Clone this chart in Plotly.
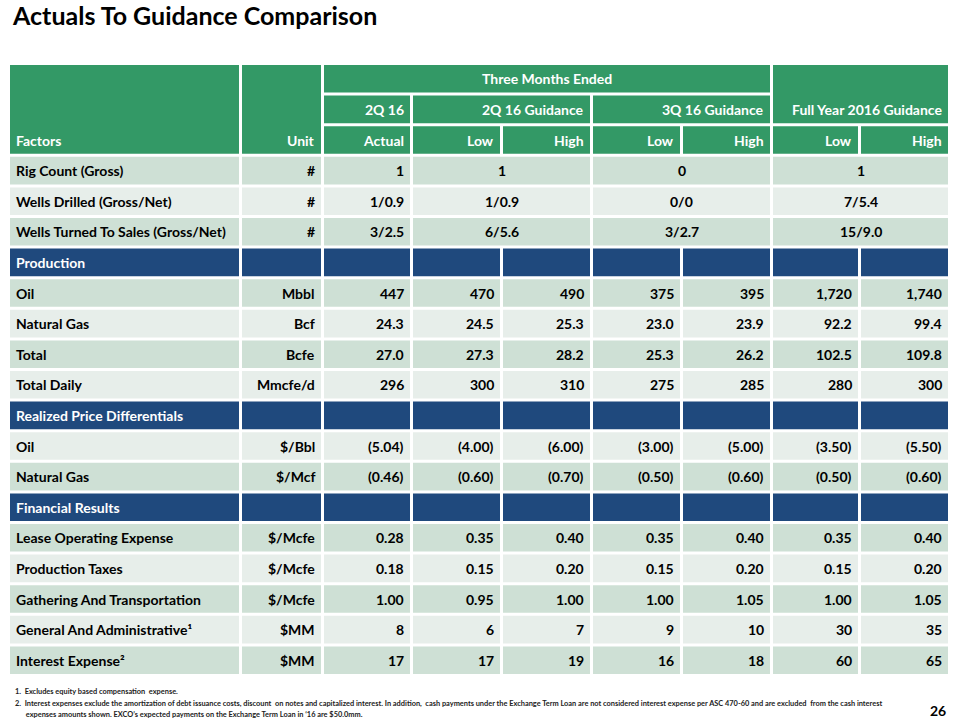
import plotly.graph_objects as go

# ---------------- data ----------------
title = "Actuals To Guidance Comparison"
factors = ["Rig Count (Gross)", "Wells Drilled (Gross/Net)", "Wells Turned To Sales (Gross/Net)",
           "Production", "Oil", "Natural Gas", "Total", "Total Daily",
           "Realized Price Differentials", "Oil", "Natural Gas",
           "Financial Results", "Lease Operating Expense", "Production Taxes",
           "Gathering And Transportation", "General And Administrative¹", "Interest Expense²"]
units = ["#", "#", "#", "", "Mbbl", "Bcf", "Bcfe", "Mmcfe/d", "", "$/Bbl", "$/Mcf", "",
         "$/Mcfe", "$/Mcfe", "$/Mcfe", "$MM", "$MM"]
section_rows = [False, False, False, True, False, False, False, False, True, False, False,
                True, False, False, False, False, False]
actual = ["1", "1/0.9", "3/2.5", None, "447", "24.3", "27.0", "296", None, "(5.04)", "(0.46)",
          None, "0.28", "0.18", "1.00", "8", "17"]
q2_low = [None, None, None, None, "470", "24.5", "27.3", "300", None, "(4.00)", "(0.60)",
          None, "0.35", "0.15", "0.95", "6", "17"]
q2_high = [None, None, None, None, "490", "25.3", "28.2", "310", None, "(6.00)", "(0.70)",
           None, "0.40", "0.20", "1.00", "7", "19"]
q3_low = [None, None, None, None, "375", "23.0", "25.3", "275", None, "(3.00)", "(0.50)",
          None, "0.35", "0.15", "1.00", "9", "16"]
q3_high = [None, None, None, None, "395", "23.9", "26.2", "285", None, "(5.00)", "(0.60)",
           None, "0.40", "0.20", "1.05", "10", "18"]
fy_low = [None, None, None, None, "1,720", "92.2", "102.5", "280", None, "(3.50)", "(0.50)",
          None, "0.35", "0.15", "1.00", "30", "60"]
fy_high = [None, None, None, None, "1,740", "99.4", "109.8", "300", None, "(5.50)", "(0.60)",
           None, "0.40", "0.20", "1.05", "35", "65"]
# merged guidance values for first rows
q2_merged = ["1", "1/0.9", "6/5.6"]
q3_merged = ["0", "0/0", "3/2.7"]
fy_merged = ["1", "7/5.4", "15/9.0"]

header_top = "Three Months Ended"
header_mid = ["2Q 16", "2Q 16 Guidance", "3Q 16 Guidance", "Full Year 2016 Guidance"]
header_low = ["Factors", "Unit", "Actual", "Low", "High", "Low", "High", "Low", "High"]
footnotes = [
    "1.  Excludes equity based compensation  expense.",
    "2.  Interest expenses exclude the amortization of debt issuance costs, discount  on notes and capitalized interest. In addition,  cash payments under the Exchange Term Loan are not considered interest expense per ASC 470-60 and are excluded  from the cash interest",
    "      expenses amounts shown. EXCO’s expected payments on the Exchange Term Loan in ‘16 are $50.0mm.",
]
page_no = "26"

# ---------------- layout / style ----------------
GREEN = "#339966"
BLUE = "#1F497D"
DARK = "#CEE0D5"
LIGHT = "#E7EEEA"
FONT = "Lato"
FS = 14

cols = [(10, 239), (242, 321), (324, 410), (413, 500), (503, 590),
        (593, 680), (683, 770), (773, 858), (861, 948)]
TOP = 65.0
PITCH = 30.6
GAP = 3.0
PAD = 4


def row_y(i):
    t = TOP + i * PITCH
    return t, t + PITCH - GAP


shapes = []
annots = []


def rect(x0, y0, x1, y1, color):
    shapes.append(dict(type="rect", xref="x", yref="y", x0=x0, x1=x1, y0=y0, y1=y1,
                       fillcolor=color, line=dict(width=0), layer="below"))


def text(x, y, s, anchor, color="black", size=FS, bold=True):
    if s is None or s == "":
        return
    annots.append(dict(x=x, y=y, xref="x", yref="y", text=("<b>%s</b>" % s) if bold else s,
                       showarrow=False, xanchor=anchor, yanchor="middle",
                       font=dict(family=FONT, size=size, color=color)))


def cell_text(c0, c1, yc, s, align, color="black"):
    x0 = cols[c0][0]
    x1 = cols[c1][1]
    if align == "right":
        text(x1 - PAD, yc, s, "right", color)
    elif align == "left":
        text(x0 + PAD, yc, s, "left", color)
    else:
        text((x0 + x1) / 2, yc, s, "center", color)


# header
r0t, r0b = row_y(0)
r1t, r1b = row_y(1)
r2t, r2b = row_y(2)
rect(cols[0][0], r0t, cols[0][1], r2b, GREEN)
rect(cols[1][0], r0t, cols[1][1], r2b, GREEN)
rect(cols[2][0], r0t, cols[6][1], r0b, GREEN)
rect(cols[7][0], r0t, cols[8][1], r1b, GREEN)
rect(cols[2][0], r1t, cols[2][1], r1b, GREEN)
rect(cols[3][0], r1t, cols[4][1], r1b, GREEN)
rect(cols[5][0], r1t, cols[6][1], r1b, GREEN)
for c in range(2, 9):
    rect(cols[c][0], r2t, cols[c][1], r2b, GREEN)
cell_text(2, 6, (r0t + r0b) / 2, header_top, "center", "white")
mid_y = (r1t + r1b) / 2
cell_text(2, 2, mid_y, header_mid[0], "right", "white")
cell_text(3, 4, mid_y, header_mid[1], "right", "white")
cell_text(5, 6, mid_y, header_mid[2], "right", "white")
cell_text(7, 8, mid_y, header_mid[3], "right", "white")
low_y = (r2t + r2b) / 2
for c, s in enumerate(header_low):
    cell_text(c, c, low_y, s, "left" if c == 0 else "right", "white")

# body
for i in range(len(factors)):
    t, b = row_y(3 + i)
    yc = (t + b) / 2
    if section_rows[i]:
        for c in range(9):
            rect(cols[c][0], t, cols[c][1], b, BLUE)
        cell_text(0, 0, yc, factors[i], "left", "white")
        continue
    color = DARK if i % 2 == 0 else LIGHT
    cell_text(0, 0, yc, factors[i], "left")
    cell_text(1, 1, yc, units[i], "right")
    cell_text(2, 2, yc, actual[i], "right")
    rect(cols[0][0], t, cols[0][1], b, color)
    rect(cols[1][0], t, cols[1][1], b, color)
    rect(cols[2][0], t, cols[2][1], b, color)
    if i < len(q2_merged):
        for (c0, c1), v in zip([(3, 4), (5, 6), (7, 8)], [q2_merged[i], q3_merged[i], fy_merged[i]]):
            rect(cols[c0][0], t, cols[c1][1], b, color)
            cell_text(c0, c1, yc, v, "center")
    else:
        for c, vals in zip(range(3, 9), [q2_low, q2_high, q3_low, q3_high, fy_low, fy_high]):
            rect(cols[c][0], t, cols[c][1], b, color)
            cell_text(c, c, yc, vals[i], "right")

# title
text(10, 15, title, "left", size=25)
# footnotes
for k, (fy, s) in enumerate(zip([691, 703, 714], footnotes)):
    text(13, fy, s, "left", color="#222222", size=7.4)
text(948, 710, page_no, "right", size=14)

fig = go.Figure()
fig.add_trace(go.Scatter(x=[0, 960], y=[0, 720], mode="markers", marker=dict(opacity=0),
                         hoverinfo="skip", showlegend=False))
fig.update_layout(
    width=960, height=720, margin=dict(l=0, r=0, t=0, b=0),
    paper_bgcolor="white", plot_bgcolor="white",
    xaxis=dict(range=[0, 960], visible=False, fixedrange=True),
    yaxis=dict(range=[720, 0], visible=False, fixedrange=True),
    shapes=shapes, annotations=annots, showlegend=False,
)
fig.write_html("out.html", config={"displayModeBar": False},
               post_script="document.body.style.margin='0';document.body.style.overflow='hidden';")
